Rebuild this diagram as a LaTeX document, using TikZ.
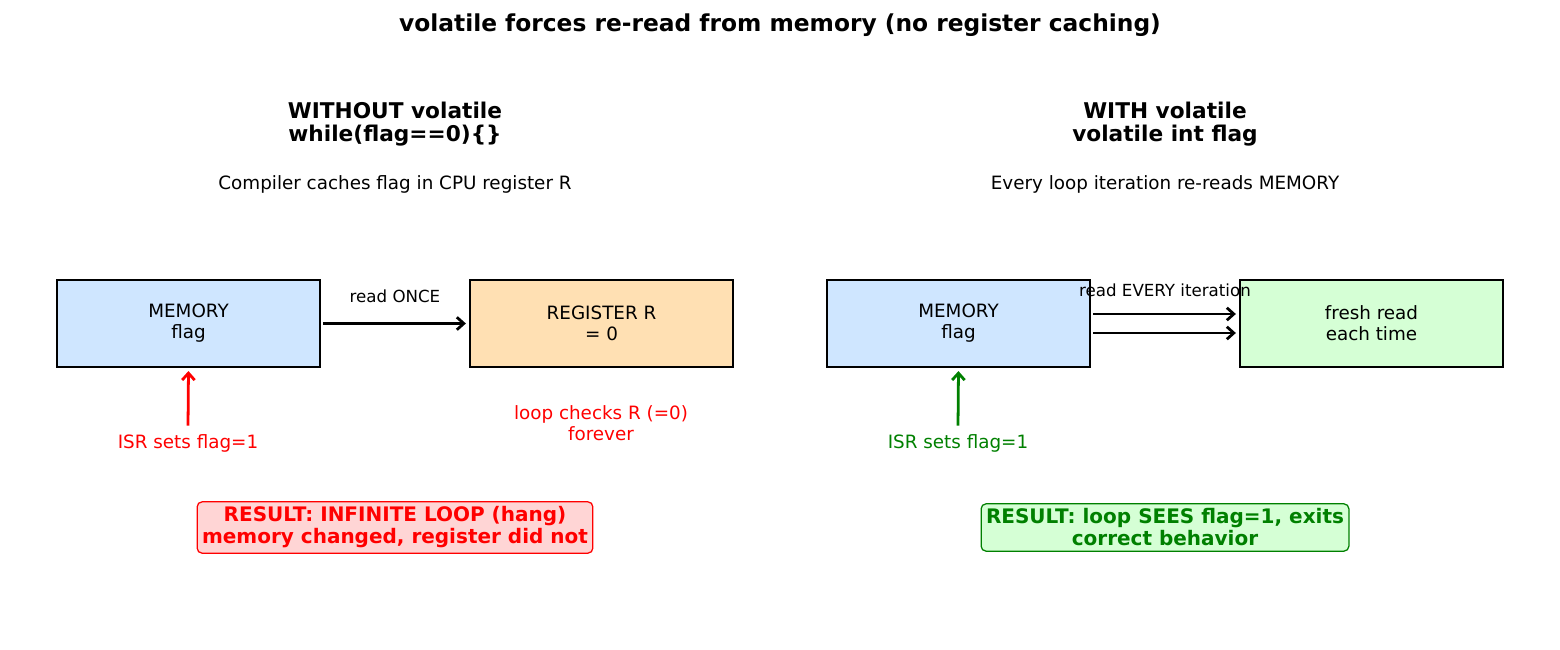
\documentclass[tikz,border=0pt]{standalone}
\usepackage{fontspec}
\setmainfont{DejaVu Sans}
\usepackage{xcolor}
\definecolor{memBack}  {HTML}{CFE6FF}
\definecolor{regBack}  {HTML}{FFE0B3}
\definecolor{freshBack}{HTML}{D5FFD5}
\definecolor{badBack}  {HTML}{FFD5D5}
\definecolor{okGreen}  {HTML}{008000}
\usetikzlibrary{arrows.meta, positioning, calc}

\begin{document}
\begin{tikzpicture}[
    x=0.72pt, y=-0.72pt,
    every node/.style={font=\fontsize{13.2}{15.2}\selectfont, align=center, inner sep=0pt},
    heading/.style={font=\fontsize{15.6}{16.8}\selectfont\bfseries},
    small/.style={font=\fontsize{12}{14}\selectfont},
    box/.style={draw, line width=0.9pt, minimum width=189.4pt, minimum height=62.6pt},
    result/.style={draw, line width=0.9pt, rounded corners=3.5pt, inner xsep=3.5pt, inner ysep=3.5pt,
                   font=\fontsize{14.4}{15.9}\selectfont\bfseries},
    arr/.style={-{Straight Barb[length=5pt, width=9pt]}, line width=2pt, shorten >=2.5pt, shorten <=2pt}
]
\useasboundingbox (0,0) rectangle (1560,650);
% Title
\node[heading, font=\fontsize{16.8}{19}\selectfont\bfseries] (title) at (780, 25)
    {volatile forces re-read from memory (no register caching)};
% Left half: without volatile
\node[heading] (headL) at (395, 124) {WITHOUT volatile\\while(flag==0)\{\}};
\node (noteL) at (395, 184) {Compiler caches flag in CPU register R};
\node[box, fill=memBack] (memL) at (188.5, 323.5) {MEMORY\\flag};
\node[box, fill=regBack] (regL) at (601.5, 323.5) {REGISTER R\\= 0};
\draw[arr] (memL) -- node[above=14pt, small] (onceL) {read ONCE} (regL);
\node[red] (isrL) at (188, 443.5) {ISR sets flag=1};
\draw[arr, red] (isrL.north) ++(0,-6) -- (memL.south);
\node[red] (loopL) at (601, 423) {loop checks R (=0)\\forever};
\node[result, red, fill=badBack] (resL) at (395, 527.5) {RESULT: INFINITE LOOP (hang)\\memory changed, register did not};
% Right half: with volatile
\node[heading] (headR) at (1165, 124) {WITH volatile\\volatile int flag};
\node (noteR) at (1165, 184) {Every loop iteration re-reads MEMORY};
\node[box, fill=memBack] (memR) at (958.5, 323.5) {MEMORY\\flag};
\node[box, fill=freshBack] (freshR) at (1371.5, 323.5) {fresh read\\each time};
\draw[arr] ($(memR.east)+(0,-9.5)$) -- ($(freshR.west)+(0,-9.5)$);
\draw[arr] ($(memR.east)+(0,9.5)$) -- ($(freshR.west)+(0,9.5)$);
\node[small] (everyR) at (1165, 290) {read EVERY iteration};
\node[okGreen] (isrR) at (958, 443.5) {ISR sets flag=1};
\draw[arr, okGreen] (isrR.north) ++(0,-6) -- (memR.south);
\node[result, okGreen, fill=freshBack] (resR) at (1165, 527.5) {RESULT: loop SEES flag=1, exits\\correct behavior};
\end{tikzpicture}
\end{document}
